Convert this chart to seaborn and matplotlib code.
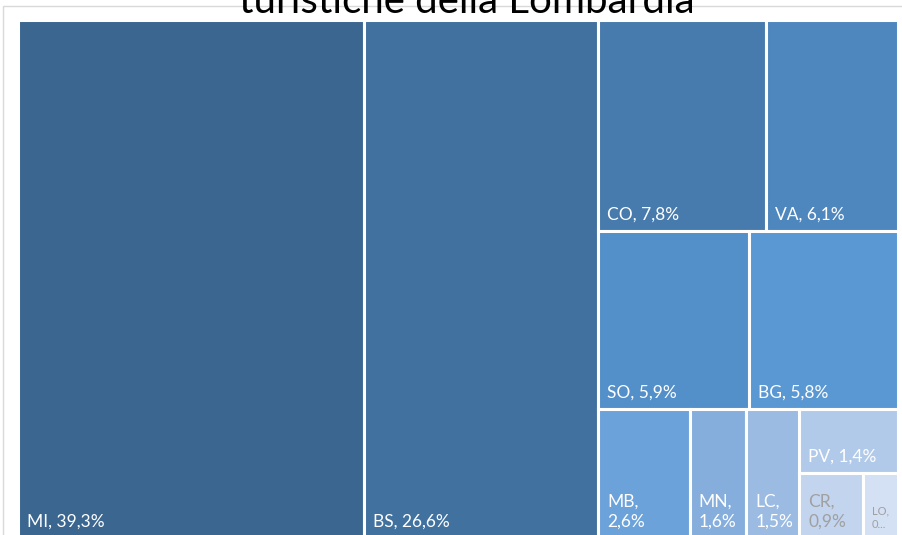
import matplotlib.pyplot as plt
import seaborn as sns
from matplotlib.patches import Rectangle

# Quota delle presenze turistiche per provincia (%)
codes = ["MI", "BS", "CO", "VA", "SO", "BG", "MB", "MN", "LC", "PV", "CR", "LO"]
shares = [39.3, 26.6, 7.8, 6.1, 5.9, 5.8, 2.6, 1.6, 1.5, 1.4, 0.9, 0.5]

# tile colours, darkest for the largest share
tile_colors = ["#3A6690", "#41719F", "#477BAD", "#4E86BE", "#538FC9", "#5A98D3",
               "#6CA2DA", "#86AEDD", "#9BBBE3", "#B2CAE9", "#C3D4EE", "#D4E0F3"]

# how the tiles are nested ("h" = side by side, "v" = stacked)
nesting = ("h", [0, 1, ("v", [("h", [2, 3]), ("h", [4, 5]),
                              ("h", [6, 7, 8, ("v", [9, ("h", [10, 11])])])])])

sns.set_theme(style="white")
plt.rcParams['font.family'] = ['Lato', 'DejaVu Sans']

W, H = 902, 535
fig = plt.figure(figsize=(W / 100, H / 100), dpi=100)
ax = fig.add_axes([18 / W, (H - 538) / H, 880 / W, 518 / H])
ax.set_xlim(0, 1)
ax.set_ylim(1, 0)
ax.axis("off")


def total(node):
    if isinstance(node, int):
        return shares[node]
    return sum(total(c) for c in node[1])


rects = {}


def place(node, x, y, w, h):
    if isinstance(node, int):
        rects[node] = (x, y, w, h)
        return
    kind, children = node
    s = total(node)
    for c in children:
        f = total(c) / s
        if kind == "h":
            place(c, x, y, w * f, h)
            x += w * f
        else:
            place(c, x, y, w, h * f)
            y += h * f


place(nesting, 0, 0, 1, 1)

for i, (x, y, w, h) in rects.items():
    ax.add_patch(Rectangle((x, y), w, h, facecolor=tile_colors[i],
                           edgecolor="white", linewidth=2.2))

fig.canvas.draw()
renderer = fig.canvas.get_renderer()

for i, (x, y, w, h) in rects.items():
    r, g, b = [int(tile_colors[i][k:k + 2], 16) / 255 for k in (1, 3, 5)]
    lum = 0.299 * r + 0.587 * g + 0.114 * b
    tcol = "white" if lum < 0.78 else "#A0A0A0"
    value = f"{shares[i]:.1f}".replace(".", ",") + "%"
    px_w = ax.transData.transform((x + w, 0))[0] - ax.transData.transform((x, 0))[0]
    t = ax.annotate(f"{codes[i]}, {value}", xy=(x, y + h), xytext=(6.5, 6),
                    textcoords="offset points", ha="left", va="bottom",
                    color=tcol, fontsize=12.5, linespacing=1.3)
    if t.get_window_extent(renderer).width > px_w - 22:
        t.set_text(f"{codes[i]},\n{value}")
        if t.get_window_extent(renderer).width > px_w - 12:
            t.set_fontsize(8)
            t.set_text(f"{codes[i]},\n0...")

# outer chart border
fig.patches.append(Rectangle((3 / W, -0.1), 1.0, 1.1 - 6 / H, fill=False,
                             edgecolor="#D9D9D9", linewidth=1,
                             transform=fig.transFigure, figure=fig))

fig.text(467 / W, 1 - 13 / H, "turistiche della Lombardia", ha="center",
         va="baseline", fontsize=29, color="black")

fig.savefig("out.png", dpi=100, facecolor="white")
